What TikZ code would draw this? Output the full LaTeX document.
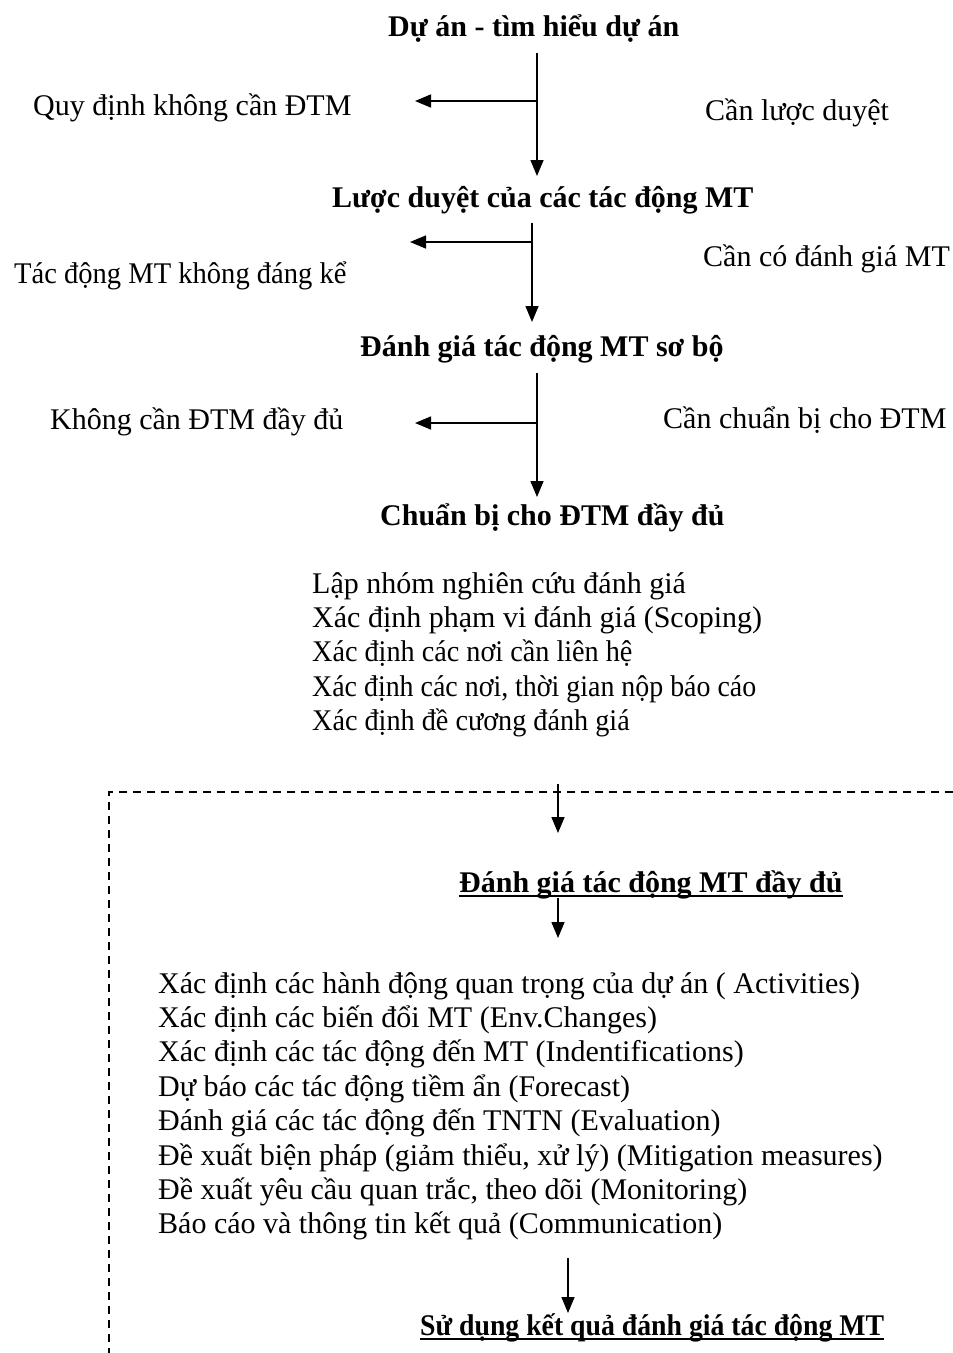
\documentclass[tikz,border=0pt]{standalone}
\usepackage{fontspec}
\setmainfont{Liberation Serif}
\usetikzlibrary{arrows.meta}

\newcommand{\diagsize}{\fontsize{30}{34.4}\selectfont}
% gach chan dam
\newcommand{\ulbold}[1]{\setbox0\hbox{#1}\rlap{\rule[-5.2pt]{\wd0}{2.5pt}}\box0}

\tikzset{
  head/.style={font=\diagsize\bfseries, inner sep=0pt, anchor=base west},
  note/.style={font=\diagsize, inner sep=0pt, anchor=base west},
  arr/.style={line width=1.5pt, -{Triangle[length=16pt,width=13pt]}},
  dashline/.style={line width=1.3pt, dash pattern=on 8pt off 6pt},
}

\begin{document}
\begin{tikzpicture}[x=1pt,y=-1pt]
    \useasboundingbox (0,0) rectangle (953,1353);

    % cac buoc chinh
    \node[head] (duan) at (388,36) {Dự án - tìm hiểu dự án};
    \node[head] (luocduyet) at (332,207) {Lược duyệt của các tác động MT};
    \node[head] (sobo) at (360,356) {Đánh giá tác động MT sơ bộ};
    \node[head] (chuanbi) at (380,525) {Chuẩn bị cho ĐTM đầy đủ};
    \node[head] (daydu) at (459,892) {\ulbold{Đánh giá tác động MT đầy đủ}};
    \node[head, xscale=0.925] (sudung) at (420,1335) {\ulbold{Sử dụng kết quả đánh giá tác động MT}};

    % nhanh trai / phai
    \node[note] (khong1) at (33,115) {Quy định không cần ĐTM};
    \node[note] (can1) at (705,120) {Cần lược duyệt};
    \node[note, xscale=0.952] (khong2) at (14,283) {Tác động MT không đáng kể};
    \node[note] (can2) at (703,266) {Cần có đánh giá MT};
    \node[note] (khong3) at (50,429) {Không cần ĐTM đầy đủ};
    \node[note] (can3) at (663,428) {Cần chuẩn bị cho ĐTM};

    % noi dung chuan bi
    \foreach \txt/\sx [count=\i] in {Lập nhóm nghiên cứu đánh giá/1,
        Xác định phạm vi đánh giá (Scoping)/1,
        Xác định các nơi cần liên hệ/0.94,
        {Xác định các nơi, thời gian nộp báo cáo}/0.93,
        Xác định đề cương đánh giá/0.94}
      \node[note, xscale=\sx] (cb\i) at (312,{593+34.4*(\i-1)}) {\txt};

    % noi dung DTM day du
    \foreach \txt [count=\i] in {Xác định các hành động quan trọng của dự án ( Activities),
        Xác định các biến đổi MT (Env.Changes),
        Xác định các tác động đến MT (Indentifications),
        Dự báo các tác động tiềm ẩn (Forecast),
        Đánh giá các tác động đến TNTN (Evaluation),
        {Đề xuất biện pháp (giảm thiểu, xử lý) (Mitigation measures)},
        {Đề xuất yêu cầu quan trắc, theo dõi (Monitoring)},
        Báo cáo và thông tin kết quả (Communication)}
      \node[note] (dd\i) at (158,{993+34.4*(\i-1)}) {\txt};

    % khung net dut
    \coordinate (box1) at (953,792);
    \coordinate (box2) at (109,792);
    \coordinate (box3) at (109,1353);
    \draw[dashline] (box1) -- (box2) -- (box3);

    % mui ten
    \coordinate (v1a) at (537,53);
    \coordinate (v1b) at (537,176);
    \coordinate (h1a) at (537,101);
    \coordinate (h1b) at (415,101);
    \draw[arr] (v1a) -- (v1b);
    \draw[arr] (h1a) -- (h1b);

    \coordinate (v2a) at (532,223);
    \coordinate (v2b) at (532,322);
    \coordinate (h2a) at (532,242);
    \coordinate (h2b) at (410,242);
    \draw[arr] (v2a) -- (v2b);
    \draw[arr] (h2a) -- (h2b);

    \coordinate (v3a) at (537,373);
    \coordinate (v3b) at (537,497);
    \coordinate (h3a) at (537,423);
    \coordinate (h3b) at (415,423);
    \draw[arr] (v3a) -- (v3b);
    \draw[arr] (h3a) -- (h3b);

    \coordinate (v4a) at (558,784);
    \coordinate (v4b) at (558,833);
    \draw[arr] (v4a) -- (v4b);
    \coordinate (v5a) at (558,898);
    \coordinate (v5b) at (558,938);
    \draw[arr] (v5a) -- (v5b);
    \coordinate (v6a) at (568,1258);
    \coordinate (v6b) at (568,1313);
    \draw[arr] (v6a) -- (v6b);
\end{tikzpicture}
\end{document}
